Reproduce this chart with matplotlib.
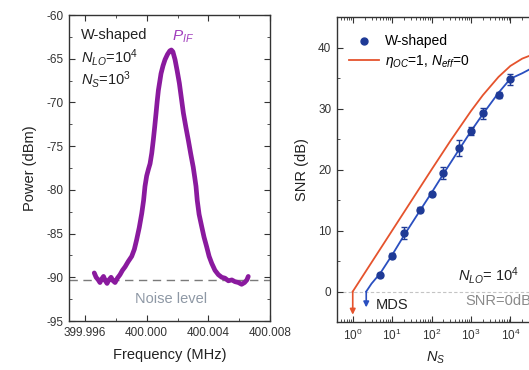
import matplotlib

matplotlib.use("Agg")
import matplotlib.pyplot as plt
from matplotlib.lines import Line2D
from matplotlib.ticker import LogLocator, MultipleLocator, NullFormatter

plt.rcParams["font.family"] = ["Liberation Sans", "DejaVu Sans"]
plt.rcParams["mathtext.fontset"] = "custom"
plt.rcParams["mathtext.rm"] = "Liberation Sans"
plt.rcParams["mathtext.it"] = "Liberation Sans:italic"
plt.rcParams["axes.unicode_minus"] = False

# left panel: IF spectrum trace (MHz, dBm)
freq_mhz = [
    399.99660, 399.99672, 399.99686, 399.99697, 399.99708, 399.99720,
    399.99732, 399.99743, 399.99755, 399.99769, 399.99782, 399.99795,
    399.99810, 399.99827, 399.99843, 399.99860, 399.99880, 399.99903,
    399.99920, 399.99935, 399.99952, 399.99968, 399.99980, 399.99989,
    400.00000, 400.00012, 400.00022, 400.00033, 400.00043, 400.00052,
    400.00061, 400.00068, 400.00076, 400.00085, 400.00093, 400.00106,
    400.00119, 400.00135, 400.00150, 400.00160, 400.00170, 400.00184,
    400.00198, 400.00212, 400.00225, 400.00238, 400.00254, 400.00270,
    400.00286, 400.00302, 400.00312, 400.00320, 400.00328, 400.00340,
    400.00357, 400.00372, 400.00389, 400.00405, 400.00422, 400.00443,
    400.00465, 400.00487, 400.00508, 400.00530, 400.00552, 400.00573,
    400.00595, 400.00616, 400.00635, 400.00650, 400.00659,
]
power_dbm = [
    -89.5, -90.0, -90.3, -90.6, -90.2, -89.9,
    -90.4, -90.7, -90.3, -90.0, -90.4, -90.6,
    -90.1, -89.7, -89.2, -88.8, -88.2, -87.6,
    -86.8, -85.7, -84.3, -82.7, -81.2, -79.6,
    -78.4, -77.6, -77.0, -75.8, -74.3, -72.8,
    -71.2, -69.9, -68.6, -67.6, -66.7, -65.8,
    -65.1, -64.5, -64.1, -64.0, -64.2, -65.1,
    -66.4, -67.8, -69.5, -71.2, -72.8, -74.3,
    -75.9, -77.4, -78.6, -79.6, -81.2, -82.8,
    -84.2, -85.4, -86.5, -87.6, -88.4, -89.2,
    -89.7, -90.0, -90.1, -90.4, -90.3, -90.5,
    -90.6, -90.8, -90.6, -90.3, -89.9,
]
noise_level = -90.3

# right panel: SNR versus signal photon number
ns_meas = [5, 10, 20, 50, 100, 200, 500, 1000, 2000, 5000, 10000]
snr_meas = [2.7, 5.9, 9.6, 13.4, 16.0, 19.5, 23.6, 26.3, 29.2, 32.3, 34.8]
snr_err = [0.4, 0.4, 1.0, 0.4, 0.4, 1.0, 1.3, 0.6, 0.9, 0.5, 0.9]

ns_fit = [2.2, 3, 5, 10, 20, 50, 100, 200, 500, 1000, 2000, 5000, 10000,
          20000, 30000, 50000]
snr_fit = [0.0, 1.3, 3.0, 6.0, 9.2, 13.2, 16.2, 19.3, 23.3, 26.3, 29.1,
           32.6, 34.9, 35.8, 36.4, 37.2]

ns_ideal = [1, 10, 100, 300, 1000, 2000, 5000, 10000, 20000, 50000]
snr_ideal = [0.0, 10.0, 20.0, 24.7, 29.6, 32.2, 35.2, 37.0, 38.2, 39.2]

mds_ideal = 1
mds_meas = 2.2

purple = "#8a1a9e"
blue_pt = "#1e3a96"
blue_ln = "#2a4fc0"
red = "#e5532d"
axis_col = "#333333"


def style(ax):
    ax.tick_params(which="both", direction="in", top=True, right=True,
                   colors=axis_col, labelsize=8.5, pad=4)
    ax.tick_params(which="major", length=4)
    ax.tick_params(which="minor", length=2)
    for spine in ax.spines.values():
        spine.set_color(axis_col)
        spine.set_linewidth(1.0)


fig = plt.figure(figsize=(5.29, 3.70), dpi=100)

ax1 = fig.add_axes([0.1304, 0.1324, 0.38, 0.827])
ax1.plot(freq_mhz, power_dbm, color=purple, lw=3.4, solid_joinstyle="round",
         solid_capstyle="round")
ax1.axhline(noise_level, color="#7a7a7a", lw=1.0, dashes=(6, 4), zorder=0)
ax1.set_xlim(399.99496, 400.008)
ax1.set_ylim(-95, -60)
ax1.set_xticks([399.996, 400.000, 400.004, 400.008])
ax1.set_xticklabels(["399.996", "400.000", "400.004", "400.008"])
ax1.xaxis.set_minor_locator(MultipleLocator(0.002))
ax1.yaxis.set_major_locator(MultipleLocator(5))
ax1.yaxis.set_minor_locator(MultipleLocator(2.5))
style(ax1)
ax1.set_xlabel("Frequency (MHz)", fontsize=10.5, color="#222222")
ax1.set_ylabel("Power (dBm)", fontsize=10.5, color="#222222")
ax1.xaxis.set_label_coords(0.5, -0.088)
ax1.yaxis.set_label_coords(-0.159, 0.5)

t = ax1.transAxes
ax1.text(0.06, 0.935, "W-shaped", transform=t, fontsize=10.5, va="center",
         color="#222222")
ax1.text(0.06, 0.862, r"$N_{LO}$=10$^4$", transform=t, fontsize=10.5,
         va="center", color="#222222")
ax1.text(0.06, 0.79, r"$N_{S}$=10$^3$", transform=t, fontsize=10.5,
         va="center", color="#222222")
ax1.text(0.51, 0.93, r"$P_{IF}$", transform=t, fontsize=11, va="center",
         color="#a03cbc")
ax1.text(0.507, 0.072, "Noise level", transform=t, fontsize=10.5,
         ha="center", va="center", color="#8e98a5")

ax2 = fig.add_axes([0.637, 0.1297, 0.38, 0.824])
ax2.set_xscale("log")
ax2.axhline(0, color="#c4c4c4", lw=0.8, dashes=(3, 2), zorder=0)
ax2.plot(ns_ideal, snr_ideal, color=red, lw=1.3)
ax2.plot(ns_fit, snr_fit, color=blue_ln, lw=1.3)
ax2.errorbar(ns_meas, snr_meas, yerr=snr_err, fmt="o", color=blue_pt,
             ms=5, capsize=2.5, elinewidth=1.0, capthick=1.0, zorder=5)
ax2.annotate("", xy=(mds_ideal, -3.8), xytext=(mds_ideal, 0),
             arrowprops=dict(arrowstyle="-|>", color=red, lw=1.2,
                             mutation_scale=8, shrinkA=0, shrinkB=0))
ax2.annotate("", xy=(mds_meas, -2.6), xytext=(mds_meas, 0),
             arrowprops=dict(arrowstyle="-|>", color=blue_ln, lw=1.2,
                             mutation_scale=8, shrinkA=0, shrinkB=0))
ax2.set_xlim(10 ** -0.4, 10 ** 4.7)
ax2.set_ylim(-5, 45)
ax2.set_xticks([1, 10, 100, 1000, 10000])
ax2.set_xticklabels([r"10$^0$", r"10$^1$", r"10$^2$", r"10$^3$", r"10$^4$"])
ax2.xaxis.set_minor_locator(LogLocator(base=10, subs=range(2, 10)))
ax2.xaxis.set_minor_formatter(NullFormatter())
ax2.yaxis.set_major_locator(MultipleLocator(10))
ax2.yaxis.set_minor_locator(MultipleLocator(5))
style(ax2)
ax2.set_xlabel(r"$N_S$", fontsize=10.5, color="#222222")
ax2.set_ylabel("SNR (dB)", fontsize=10.5, color="#222222")
ax2.xaxis.set_label_coords(0.49, -0.09)
ax2.yaxis.set_label_coords(-0.139, 0.5)

handles = [
    Line2D([], [], marker="o", ls="none", color=blue_pt, ms=5),
    Line2D([], [], color=red, lw=1.3),
]
ax2.legend(handles, ["W-shaped", r"$\eta_{OC}$=1, $N_{eff}$=0"],
           loc="upper left", frameon=False, fontsize=10, handlelength=2.2,
           handletextpad=0.4, labelspacing=0.3, borderaxespad=0.3,
           bbox_to_anchor=(0.01, 0.975))

t2 = ax2.transAxes
ax2.text(0.602, 0.154, r"$N_{LO}$= 10$^4$", transform=t2, fontsize=10.5,
         va="center", color="#222222")
ax2.text(0.194, 0.056, "MDS", transform=t2, fontsize=10.5, va="center",
         color="#222222")
ax2.text(0.637, 0.069, "SNR=0dB", transform=t2, fontsize=10.5, va="center",
         color="#8a8a8a")

fig.savefig("out.png", dpi=100)
